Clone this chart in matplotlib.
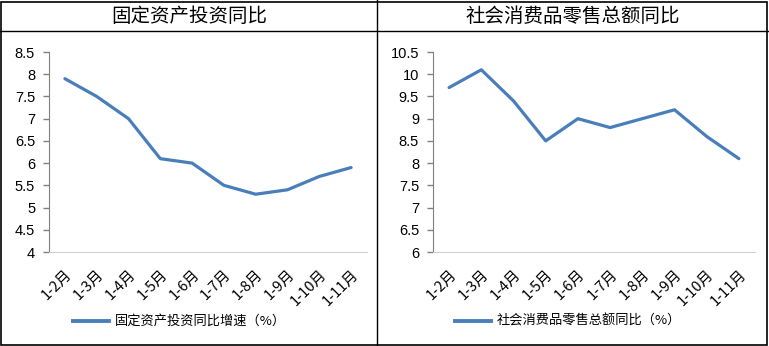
import matplotlib.pyplot as plt
import matplotlib.transforms as mtransforms
from matplotlib.lines import Line2D

plt.rcParams['font.family'] = ['Noto Sans CJK SC', 'DejaVu Sans']

months = ['1-2月', '1-3月', '1-4月', '1-5月', '1-6月', '1-7月', '1-8月', '1-9月', '1-10月', '1-11月']
invest = [7.9, 7.5, 7.0, 6.1, 6.0, 5.5, 5.3, 5.4, 5.7, 5.9]
retail = [9.7, 10.1, 9.4, 8.5, 9.0, 8.8, 9.0, 9.2, 8.6, 8.1]

titles = ['固定资产投资同比', '社会消费品零售总额同比']
legends = ['固定资产投资同比增速（%）', '社会消费品零售总额同比（%）']
color = '#4a7ebb'

W, H = 769, 346
fig = plt.figure(figsize=(W / 100, H / 100), dpi=100)

# frame: outer box, title row, middle divider
fig.add_artist(plt.Rectangle((1 / W, 1 / H), 1 - 3 / W, 1 - 3 / H, transform=fig.transFigure,
                             fill=False, lw=1.2, ec='black'))
fig.add_artist(Line2D([0, 1], [1 - 31 / H, 1 - 31 / H], transform=fig.transFigure, lw=1, color='black'))
fig.add_artist(Line2D([377 / W, 377 / W], [0, 1], transform=fig.transFigure, lw=1, color='black'))

panels = [
    dict(x0=49, x1=367, data=invest, ylim=(4, 8.5), tcx=189, legx=73),
    dict(x0=433, x1=755, data=retail, ylim=(6, 10.5), tcx=573, legx=455),
]

shift = mtransforms.ScaledTranslation(-4 / 100, 0, fig.dpi_scale_trans)

for i, p in enumerate(panels):
    ax = fig.add_axes([p['x0'] / W, 1 - 252 / H, (p['x1'] - p['x0']) / W, 200 / H])
    x = range(len(months))
    ax.plot(x, p['data'], color=color, lw=2.3, solid_capstyle='round')
    ax.set_xlim(-0.5, len(months) - 0.5)
    lo, hi = p['ylim']
    ax.set_ylim(lo, hi)
    yt = [lo + 0.5 * k for k in range(10)]
    ax.set_yticks(yt)
    ax.set_yticklabels([('%g' % v) for v in yt], fontsize=10.5, family='Liberation Sans')
    ax.set_xticks(list(x))
    ax.set_xticklabels(months, rotation=45, ha='right', va='top', fontsize=10.5,
                       rotation_mode='anchor')
    for lab in ax.get_xticklabels():
        lab.set_transform(lab.get_transform() + shift)
    ax.tick_params(axis='x', length=0, pad=11)
    ax.tick_params(axis='y', length=4, color='#808080', width=1, pad=6)
    for s in ['top', 'right']:
        ax.spines[s].set_visible(False)
    ax.spines['left'].set_color('#808080')
    ax.spines['bottom'].set_color('#d0d0d0')

    fig.text(p['tcx'] / W, 1 - 16 / H, titles[i], ha='center', va='center', fontsize=14)
    ly = 1 - 321 / H
    fig.add_artist(Line2D([p['legx'] / W, (p['legx'] + 36) / W], [ly, ly], transform=fig.transFigure,
                          color=color, lw=2.8))
    fig.text((p['legx'] + 42) / W, ly, legends[i], ha='left', va='center', fontsize=9.5)

fig.savefig('out.png', dpi=100)
